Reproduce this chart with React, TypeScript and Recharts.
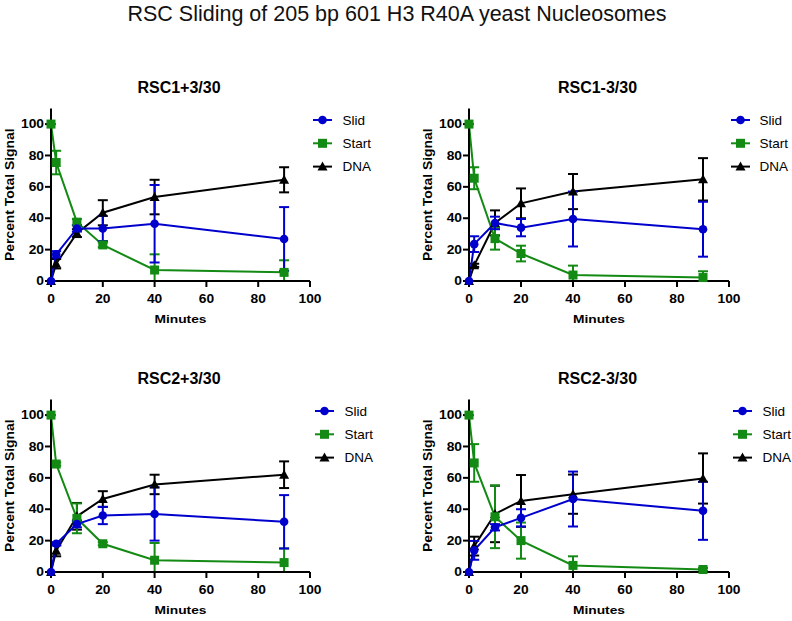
import { ErrorBar, Line, LineChart, XAxis, YAxis } from 'recharts'

const minutes = [0, 2, 10, 20, 40, 90]
const xTicks = [0, 20, 40, 60, 80, 100]
const yTicks = [0, 20, 40, 60, 80, 100]
const seriesNames = ['Slid', 'Start', 'DNA']

// RSC1+3/30
const rsc1PlusSlid = [0, 17, 33.5, 33.5, 36.5, 26.8]
const rsc1PlusSlidSd = [0, 2, 2, 8, 24.7, 20.3]
const rsc1PlusStart = [100, 75.5, 37.5, 23, 7, 5.5]
const rsc1PlusStartSd = [0, 7.5, 2, 1.5, 10, 7.7]
const rsc1PlusDna = [0, 11, 30.5, 43.5, 53.5, 64.5]
const rsc1PlusDnaSd = [0, 3, 2.5, 8, 11, 8]

// RSC1-3/30
const rsc1MinusSlid = [0, 23.5, 37, 34, 39.5, 33]
const rsc1MinusSlidSd = [0, 5, 4, 5.5, 17.5, 17.5]
const rsc1MinusStart = [100, 65.5, 27, 17.5, 3.8, 2.2]
const rsc1MinusStartSd = [0, 7, 7, 5, 6, 4]
const rsc1MinusDna = [0, 10, 37, 49.5, 57, 64.8]
const rsc1MinusDnaSd = [0, 1, 8, 9.5, 11.2, 13.5]

// RSC2+3/30
const rsc2PlusSlid = [0, 18, 30.5, 36, 37, 32]
const rsc2PlusSlidSd = [0, 1, 2, 5.5, 17, 17]
const rsc2PlusStart = [100, 68.8, 34.2, 18, 7.5, 6]
const rsc2PlusStartSd = [0, 1, 9.5, 1, 11, 9]
const rsc2PlusDna = [0, 13.5, 35.5, 46.5, 55.8, 62]
const rsc2PlusDnaSd = [0, 3.5, 8.5, 5, 6.2, 8.5]

// RSC2-3/30
const rsc2MinusSlid = [0, 13.8, 28.5, 34.5, 46.5, 39]
const rsc2MinusSlidSd = [0, 6, 2, 5.5, 17.5, 18.5]
const rsc2MinusStart = [100, 69.5, 35.2, 20, 4.2, 1.6]
const rsc2MinusStartSd = [0, 12, 20, 11.5, 5.8, 1]
const rsc2MinusDna = [0, 16.5, 37, 45.3, 49.6, 59.6]
const rsc2MinusDnaSd = [0, 6, 18, 16.5, 12.5, 16]

const panels = [
  { title: 'RSC1+3/30', slid: rsc1PlusSlid, slidSd: rsc1PlusSlidSd, start: rsc1PlusStart, startSd: rsc1PlusStartSd, dna: rsc1PlusDna, dnaSd: rsc1PlusDnaSd },
  { title: 'RSC1-3/30', slid: rsc1MinusSlid, slidSd: rsc1MinusSlidSd, start: rsc1MinusStart, startSd: rsc1MinusStartSd, dna: rsc1MinusDna, dnaSd: rsc1MinusDnaSd },
  { title: 'RSC2+3/30', slid: rsc2PlusSlid, slidSd: rsc2PlusSlidSd, start: rsc2PlusStart, startSd: rsc2PlusStartSd, dna: rsc2PlusDna, dnaSd: rsc2PlusDnaSd },
  { title: 'RSC2-3/30', slid: rsc2MinusSlid, slidSd: rsc2MinusSlidSd, start: rsc2MinusStart, startSd: rsc2MinusStartSd, dna: rsc2MinusDna, dnaSd: rsc2MinusDnaSd }
]

// page placement of each panel
const layout = [
  { left: 0, top: 100, mLeft: 11, mRight: 86, legendX: 313, legendTextX: 342.5, rowY: 120 },
  { left: 396, top: 100, mLeft: 33, mRight: 63, legendX: 731, legendTextX: 759.5, rowY: 120 },
  { left: 0, top: 391, mLeft: 11, mRight: 86, legendX: 315, legendTextX: 344.5, rowY: 411 },
  { left: 396, top: 391, mLeft: 33, mRight: 63, legendX: 733, legendTextX: 762.5, rowY: 411 }
]

const BLUE = '#0000cd'
const GREEN = '#138a13'
const BLACK = '#000000'
const FONT = '"Liberation Sans", Arial, sans-serif'
const CHART_W = 396
const CHART_H = 211
const Y_AXIS_W = 40
const X_AXIS_H = 30
const MARGIN_TOP = 8.4

const seriesStyle: Record<string, { color: string; shape: string }> = {
  Slid: { color: BLUE, shape: 'circle' },
  Start: { color: GREEN, shape: 'square' },
  DNA: { color: BLACK, shape: 'triangle' }
}

function Marker({ shape, cx, cy, color }: { shape: string; cx: number; cy: number; color: string }) {
  if (shape === 'circle') return <circle cx={cx} cy={cy} r={4.3} fill={color} />
  if (shape === 'square') return <rect x={cx - 4.5} y={cy - 4.5} width={9} height={9} fill={color} />
  return <polygon points={`${cx},${cy - 5} ${cx + 5},${cy + 4} ${cx - 5},${cy + 4}`} fill={color} />
}

// lower bar stops at zero, as in the original plot
const errPair = (v: number, sd: number) => [Math.min(sd, v), sd]

function buildRows(p: (typeof panels)[number]) {
  return minutes.map((m, i) => ({
    x: m,
    slid: p.slid[i],
    slidErr: errPair(p.slid[i], p.slidSd[i]),
    start: p.start[i],
    startErr: errPair(p.start[i], p.startSd[i]),
    dna: p.dna[i],
    dnaErr: errPair(p.dna[i], p.dnaSd[i])
  }))
}

// Prism's bold text is a bit wider than Liberation Sans Bold
function XTick({ x, y, payload }: any) {
  return (
    <text
      transform={`translate(${x}, ${y}) scale(1.15, 1)`}
      dy="0.71em"
      textAnchor="middle"
      fontFamily={FONT}
      fontSize={12}
      fontWeight={700}
      fill="#000"
    >
      {payload.value}
    </text>
  )
}

function YTick({ x, y, payload }: any) {
  return (
    <text
      transform={`translate(${x}, ${y}) scale(1.15, 1)`}
      dy="0.355em"
      textAnchor="end"
      fontFamily={FONT}
      fontSize={12}
      fontWeight={700}
      fill="#000"
    >
      {payload.value}
    </text>
  )
}

function Panel({ index }: { index: number }) {
  const p = panels[index]
  const l = layout[index]
  const rows = buildRows(p)
  const order: [string, string][] = [
    ['DNA', 'dna'],
    ['Start', 'start'],
    ['Slid', 'slid']
  ]
  return (
    <div style={{ position: 'absolute', left: l.left, top: l.top, width: CHART_W, height: CHART_H }}>
      <LineChart
        width={CHART_W}
        height={CHART_H}
        data={rows}
        margin={{ top: MARGIN_TOP, right: l.mRight, bottom: 0, left: l.mLeft }}
      >
        <XAxis
          type="number"
          dataKey="x"
          domain={[0, 100]}
          ticks={xTicks}
          height={X_AXIS_H}
          tickSize={6}
          tickMargin={7}
          tick={<XTick />}
          axisLine={{ stroke: '#000', strokeWidth: 2 }}
          tickLine={{ stroke: '#000', strokeWidth: 2 }}
        />
        <YAxis
          type="number"
          domain={[0, 110]}
          ticks={yTicks}
          width={Y_AXIS_W}
          tickSize={6}
          tickMargin={1}
          tick={<YTick />}
          axisLine={{ stroke: '#000', strokeWidth: 2 }}
          tickLine={{ stroke: '#000', strokeWidth: 2 }}
        />
        {order.map(([name, key]) => {
          const s = seriesStyle[name]
          return (
            <Line
              key={key}
              type="linear"
              dataKey={key}
              name={name}
              stroke={s.color}
              strokeWidth={2}
              isAnimationActive={false}
              dot={(d: any) => <Marker key={`${key}-${d.index}`} shape={s.shape} cx={d.cx} cy={d.cy} color={s.color} />}
              activeDot={false}
            >
              <ErrorBar dataKey={`${key}Err`} direction="y" width={5} stroke={s.color} strokeWidth={2} />
            </Line>
          )
        })}
      </LineChart>
    </div>
  )
}

function Labels() {
  return (
    <svg width={792} height={621} style={{ position: 'absolute', left: 0, top: 0, pointerEvents: 'none' }}>
      <text x={397} y={20.5} textAnchor="middle" fontFamily={FONT} fontSize={21.5} fill="#111">
        RSC Sliding of 205 bp 601 H3 R40A yeast Nucleosomes
      </text>
      {panels.map((p, i) => {
        const l = layout[i]
        const plotLeft = l.left + l.mLeft + Y_AXIS_W
        const plotRight = l.left + CHART_W - l.mRight
        const plotTop = l.top + MARGIN_TOP
        const plotBottom = l.top + CHART_H - X_AXIS_H
        const cx = (plotLeft + plotRight) / 2
        const cy = (plotTop + plotBottom) / 2
        return (
          <g key={p.title} fontFamily={FONT}>
            <text x={cx - 1.5} y={plotTop - 15.5} textAnchor="middle" fontSize={16} fontWeight={700}>
              {p.title}
            </text>
            <text
              transform={`translate(${cx}, ${plotBottom + 42}) scale(1.2, 1)`}
              textAnchor="middle"
              fontSize={11.5}
              fontWeight={700}
            >
              Minutes
            </text>
            <text
              transform={`translate(${plotLeft - 37.5}, ${cy}) rotate(-90) scale(1.07, 1)`}
              textAnchor="middle"
              fontSize={13}
              fontWeight={700}
            >
              Percent Total Signal
            </text>
            {seriesNames.map((name, k) => {
              const s = seriesStyle[name]
              const y = l.rowY + k * 23.3
              return (
                <g key={name}>
                  <line x1={l.legendX} y1={y} x2={l.legendX + 19} y2={y} stroke={s.color} strokeWidth={2} />
                  <Marker shape={s.shape} cx={l.legendX + 9.5} cy={y} color={s.color} />
                  <text x={l.legendTextX} y={y + 4.8} fontSize={13.5} fill="#000">
                    {name}
                  </text>
                </g>
              )
            })}
          </g>
        )
      })}
    </svg>
  )
}

export default function App() {
  return (
    <div style={{ position: 'absolute', left: 0, top: 0, width: 792, height: 621, background: '#fff' }}>
      {panels.map((p, i) => (
        <Panel key={p.title} index={i} />
      ))}
      <Labels />
    </div>
  )
}
